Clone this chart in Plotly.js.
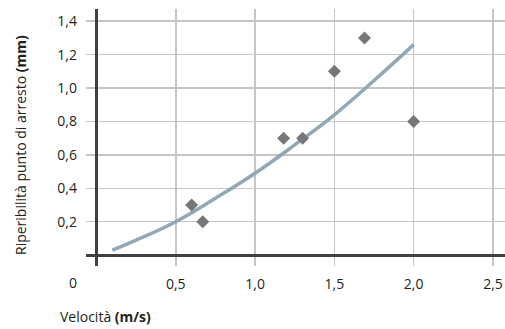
<!DOCTYPE html>
<html>
<head>
<meta charset="utf-8">
<script src="https://cdn.plot.ly/plotly-3.0.1.min.js"></script>
<style>html,body{margin:0;padding:0;background:#fff;}#chart{width:505px;height:329px;}</style>
</head>
<body>
<div id="chart"></div>
<script>
// Measured points
const pointX = [0.6, 0.67, 1.18, 1.3, 1.5, 1.69, 2.0];
const pointY = [0.3, 0.2, 0.7, 0.7, 1.1, 1.3, 0.8];
// Trend curve
const curveX = [0.1, 0.25, 0.5, 0.75, 1.0, 1.25, 1.5, 1.75, 2.0];
const curveY = [0.03, 0.09, 0.2, 0.34, 0.49, 0.66, 0.84, 1.045, 1.26];
// Ticks
const xTicks = [0.5, 1.0, 1.5, 2.0, 2.5];
const yTicks = [0.2, 0.4, 0.6, 0.8, 1.0, 1.2, 1.4];

const FONT = 'Open Sans, sans-serif';
const TXT = '#231f20';

const traces = [
  {
    x: curveX, y: curveY, type: 'scatter', mode: 'lines',
    line: {color: '#91a9b6', width: 3.5, shape: 'spline', smoothing: 1.3},
    hoverinfo: 'skip'
  },
  {
    x: pointX, y: pointY, type: 'scatter', mode: 'markers',
    marker: {symbol: 'diamond', size: 10, color: '#77777a'}
  }
];

const layout = {
  width: 505, height: 329,
  margin: {l: 86, r: 0, t: 9, b: 63},
  paper_bgcolor: '#ffffff', plot_bgcolor: '#ffffff',
  showlegend: false,
  separators: ',.',
  font: {family: FONT, size: 14, color: TXT},
  xaxis: {
    range: [-0.066, 2.576],
    tickvals: xTicks, tickformat: '.1f',
    showgrid: true, gridcolor: '#c6c6c8', gridwidth: 1.5,
    zeroline: true, zerolinecolor: '#404040', zerolinewidth: 3,
    showline: false, ticks: '', ticklabelstandoff: 8,
    tickfont: {family: FONT, size: 14, color: TXT},
    fixedrange: true
  },
  yaxis: {
    range: [-0.065, 1.473],
    tickvals: yTicks, tickformat: '.1f',
    showgrid: true, gridcolor: '#c6c6c8', gridwidth: 1.5,
    zeroline: true, zerolinecolor: '#404040', zerolinewidth: 3,
    showline: false, ticks: '', ticklabelstandoff: 8,
    tickfont: {family: FONT, size: 14, color: TXT},
    fixedrange: true
  },
  annotations: [
    {text: '0', xref: 'paper', yref: 'paper', x: -0.031, y: -0.0623,
     xanchor: 'center', yanchor: 'middle', showarrow: false,
     font: {family: FONT, size: 14, color: TXT}},
    {text: 'Velocità <b>(m/s)</b>', xref: 'paper', yref: 'paper', x: -0.0668, y: -0.1946,
     xanchor: 'left', yanchor: 'middle', showarrow: false,
     font: {family: FONT, size: 14, color: TXT}},
    {text: 'Riperibilità punto di arresto <b>(mm)</b>', xref: 'paper', yref: 'paper',
     x: -0.1575, y: 0.4708, textangle: -90,
     xanchor: 'center', yanchor: 'middle', showarrow: false,
     font: {family: FONT, size: 14, color: TXT}}
  ]
};

Plotly.newPlot('chart', traces, layout, {displayModeBar: false, staticPlot: true});
</script>
</body>
</html>
